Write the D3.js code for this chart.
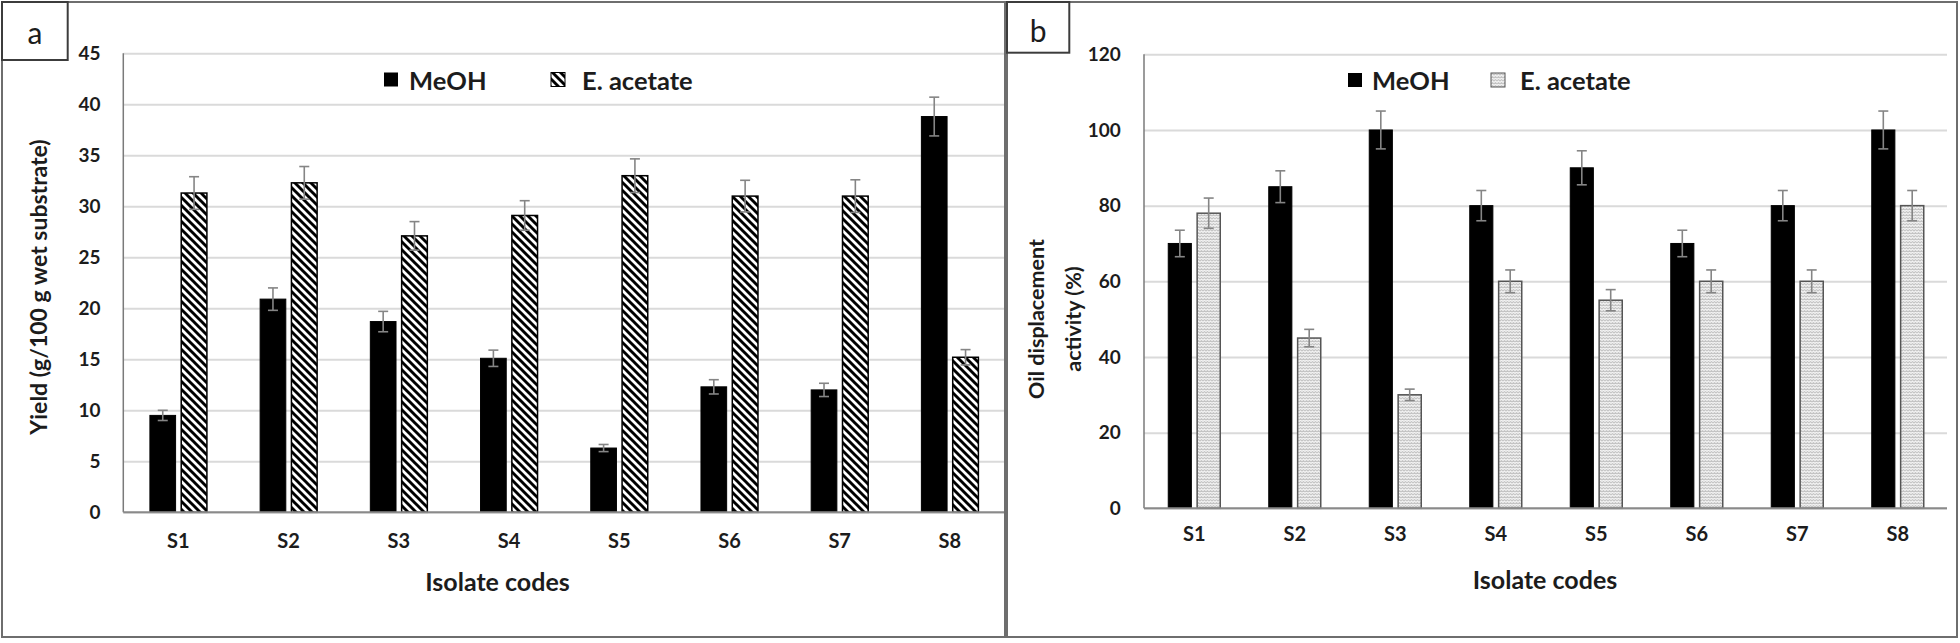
<!DOCTYPE html>
<html><head><meta charset="utf-8">
<script src="https://cdn.jsdelivr.net/npm/d3@7"></script>
<style>
body{margin:0;background:#fff}
svg text{font-family:Lato,'Open Sans',sans-serif;font-weight:700;fill:#1c1c1c}
svg text.plabel{font-weight:400}
</style>
</head><body>
<svg id="chart" width="1960" height="643"></svg>
<script>
// ---------- data ----------
const categories = ["S1","S2","S3","S4","S5","S6","S7","S8"];
const seriesNames = ["MeOH","E. acetate"];

const yieldMeOH    = [9.5, 20.9, 18.7, 15.1, 6.3, 12.3, 12.0, 38.8];
const yieldMeOHErr = [0.5, 1.1, 1.0, 0.8, 0.35, 0.7, 0.65, 1.9];
const yieldEA      = [31.3, 32.3, 27.1, 29.1, 33.0, 31.0, 31.0, 15.2];
const yieldEAErr   = [1.6, 1.6, 1.4, 1.45, 1.65, 1.55, 1.6, 0.75];
const yieldTicks   = [0,5,10,15,20,25,30,35,40,45];

const oilMeOH    = [70, 85, 100, 80, 90, 70, 80, 100];
const oilMeOHErr = [3.5, 4.2, 5, 4, 4.5, 3.5, 4, 5];
const oilEA      = [78, 45, 30, 60, 55, 60, 60, 80];
const oilEAErr   = [4, 2.3, 1.5, 3, 2.8, 3, 3, 4];
const oilTicks   = [0,20,40,60,80,100,120];

const svg = d3.select("#chart");
const defs = svg.append("defs");

// hatch pattern (panel a, E. acetate)
const hatch = defs.append("pattern").attr("id","hatch")
  .attr("patternUnits","userSpaceOnUse").attr("width",8).attr("height",8);
hatch.append("rect").attr("width",8).attr("height",8).attr("fill","#fff");
hatch.append("path").attr("d","M0,0 L8,8 M-4,4 L4,12 M4,-4 L12,4")
  .attr("stroke","#000").attr("stroke-width",2.9);

// speckle pattern (panel b, E. acetate)
const speck = defs.append("pattern").attr("id","speck")
  .attr("patternUnits","userSpaceOnUse").attr("width",6).attr("height",6);
speck.append("rect").attr("width",6).attr("height",6).attr("fill","#c4c4c4");
speck.append("path").attr("d","M0,1.5 L1.5,0 L3,1.5 L4.5,0 L6,1.5 M0,4.5 L1.5,3 L3,4.5 L4.5,3 L6,4.5")
  .attr("stroke","#f4f4f4").attr("stroke-width",1.1).attr("fill","none");

// ---------- frames ----------
svg.append("rect").attr("x",2).attr("y",2).attr("width",1003).attr("height",635)
  .attr("fill","none").attr("stroke","#6e6e6e").attr("stroke-width",2);
svg.append("rect").attr("x",1007).attr("y",2).attr("width",950).attr("height",635)
  .attr("fill","none").attr("stroke","#6e6e6e").attr("stroke-width",2);

function drawPanel(cfg){
  const g = svg.append("g");
  const x0 = d3.scaleBand().domain(categories).range([cfg.left, cfg.right]).padding(0);
  const bw = x0.bandwidth();
  const x1 = d3.scaleBand().domain(seriesNames)
    .range([(bw - cfg.group)/2, (bw + cfg.group)/2]).paddingInner(cfg.gap);
  const y = d3.scaleLinear().domain(cfg.domain).range([cfg.zero, cfg.top]);

  // gridlines
  const grid = g.append("g").attr("transform",`translate(${cfg.left},0)`)
    .call(d3.axisLeft(y).tickValues(cfg.ticks).tickSize(-(cfg.gridRight - cfg.left)).tickFormat(""));
  grid.select(".domain").remove();
  grid.selectAll("line").attr("stroke","#dadada").attr("stroke-width",2);

  // tick labels
  const lab = g.append("g").attr("transform",`translate(${cfg.left},0)`)
    .call(d3.axisLeft(y).tickValues(cfg.ticks).tickSize(0).tickPadding(cfg.tickPad));
  lab.select(".domain").remove();
  lab.selectAll("text").attr("font-size",19).attr("font-family","Lato").attr("font-weight",700).attr("fill","#1c1c1c");

  // y axis line
  g.append("line").attr("x1",cfg.left).attr("x2",cfg.left)
    .attr("y1",y(cfg.domain[1])).attr("y2",cfg.zero)
    .attr("stroke","#7a7a7a").attr("stroke-width",1.5);

  // bars
  const fills = ["#000", cfg.pattern];
  const strokes = ["#000", cfg.patStroke];
  seriesNames.forEach((s,si)=>{
    const vals = cfg.values[si], errs = cfg.errs[si];
    g.append("g").selectAll("rect").data(categories).join("rect")
      .attr("x",(c)=>x0(c)+x1(s))
      .attr("y",(c,i)=>y(vals[i]))
      .attr("width",x1.bandwidth())
      .attr("height",(c,i)=>cfg.zero - y(vals[i]))
      .attr("fill",fills[si]).attr("stroke",strokes[si]).attr("stroke-width",si?1.5:1);
    const eg = g.append("g").attr("stroke","#858585").attr("stroke-width",1.6);
    categories.forEach((c,i)=>{
      const cx = x0(c)+x1(s)+x1.bandwidth()/2;
      const yt = y(vals[i]+errs[i]), yb = y(vals[i]-errs[i]);
      eg.append("line").attr("x1",cx).attr("x2",cx).attr("y1",yt).attr("y2",yb);
      eg.append("line").attr("x1",cx-5).attr("x2",cx+5).attr("y1",yt).attr("y2",yt);
      eg.append("line").attr("x1",cx-5).attr("x2",cx+5).attr("y1",yb).attr("y2",yb);
    });
  });

  // x axis baseline
  g.append("line").attr("x1",cfg.left).attr("x2",cfg.gridRight)
    .attr("y1",cfg.zero).attr("y2",cfg.zero)
    .attr("stroke","#8a8a8a").attr("stroke-width",2);

  // category labels
  g.append("g").selectAll("text").data(categories).join("text")
    .attr("x",c=>x0(c)+bw/2).attr("y",cfg.catY)
    .attr("text-anchor","middle").attr("dominant-baseline","central")
    .attr("font-size",20).text(c=>c);

  // x title
  g.append("text").attr("x",cfg.xTitleX).attr("y",cfg.xTitleY)
    .attr("text-anchor","middle").attr("dominant-baseline","central")
    .attr("font-size",25).text("Isolate codes");

  // y title
  const yt = g.append("text").attr("transform",`translate(${cfg.yTitleX},${cfg.yTitleY}) rotate(-90)`)
    .attr("text-anchor","middle").attr("font-size",cfg.yTitleSize);
  cfg.yTitle.forEach((t,k)=>{
    yt.append("tspan").attr("x",0).attr("y",k*cfg.yTitleLH).attr("dominant-baseline","central").text(t);
  });

  // legend
  const lg = g.append("g");
  lg.append("rect").attr("x",cfg.leg[0]).attr("y",cfg.legY-7).attr("width",14).attr("height",14).attr("fill","#000");
  lg.append("text").attr("x",cfg.leg[1]).attr("y",cfg.legY).attr("dominant-baseline","central")
    .attr("font-size",25.5).text(seriesNames[0]);
  lg.append("rect").attr("x",cfg.leg[2]).attr("y",cfg.legY-7).attr("width",14).attr("height",14)
    .attr("fill",cfg.pattern).attr("stroke",cfg.patStroke).attr("stroke-width",1);
  lg.append("text").attr("x",cfg.leg[3]).attr("y",cfg.legY).attr("dominant-baseline","central")
    .attr("font-size",25.5).text(seriesNames[1]);

  // panel label box
  svg.append("rect").attr("x",cfg.box[0]).attr("y",cfg.box[1]).attr("width",cfg.box[2]).attr("height",cfg.box[3])
    .attr("fill","#fff").attr("stroke","#3c3c3c").attr("stroke-width",2);
  svg.append("text").attr("class","plabel").attr("x",cfg.box[0]+cfg.box[2]/2).attr("y",cfg.box[4])
    .attr("text-anchor","middle").attr("font-size",30).text(cfg.label);
}

drawPanel({
  left:123.3, right:1005, gridRight:1004, top:53.3, zero:512.3, domain:[0,45], ticks:yieldTicks,
  group:57, gap:0.18, tickPad:22.8,
  values:[yieldMeOH,yieldEA], errs:[yieldMeOHErr,yieldEAErr],
  pattern:"url(#hatch)", patStroke:"#000",
  catY:540, xTitleX:497.5, xTitleY:581,
  yTitle:["Yield (g/100 g wet substrate)"], yTitleX:38, yTitleY:287, yTitleSize:23, yTitleLH:0,
  leg:[384,409,551,582], legY:79.5,
  box:[2,2,65.7,58,44], label:"a"
});

drawPanel({
  left:1144, right:1948, gridRight:1947, top:54.3, zero:508.3, domain:[0,120], ticks:oilTicks,
  group:52, gap:0.2, tickPad:23.3,
  values:[oilMeOH,oilEA], errs:[oilMeOHErr,oilEAErr],
  pattern:"url(#speck)", patStroke:"#555",
  catY:533, xTitleX:1545, xTitleY:579,
  yTitle:["Oil displacement","activity (%)"], yTitleX:1036, yTitleY:319, yTitleSize:21.5, yTitleLH:37,
  leg:[1348,1372,1491,1520], legY:80,
  box:[1007,2,62.3,50.7,41.7], label:"b"
});
</script>
</body></html>
